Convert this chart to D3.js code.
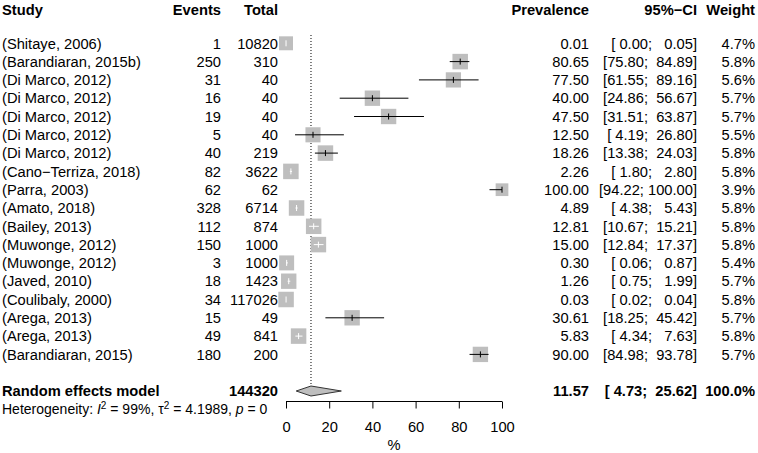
<!DOCTYPE html>
<html><head><meta charset="utf-8">
<script src="https://cdn.jsdelivr.net/npm/d3@7"></script>
<style>
body{margin:0;background:#fff;}
svg text{font-family:"Liberation Sans",Arial,Helvetica,sans-serif;white-space:pre;}
</style></head><body>
<svg id="c" width="758" height="453"></svg>
<script>
const studies = ["(Shitaye, 2006)","(Barandiaran, 2015b)","(Di Marco, 2012)","(Di Marco, 2012)","(Di Marco, 2012)","(Di Marco, 2012)","(Di Marco, 2012)","(Cano\u2212Terriza, 2018)","(Parra, 2003)","(Amato, 2018)","(Bailey, 2013)","(Muwonge, 2012)","(Muwonge, 2012)","(Javed, 2010)","(Coulibaly, 2000)","(Arega, 2013)","(Arega, 2013)","(Barandiaran, 2015)"];
const events = [1,250,31,16,19,5,40,82,62,328,112,150,3,18,34,15,49,180];
const totals = [10820,310,40,40,40,40,219,3622,62,6714,874,1000,1000,1423,117026,49,841,200];
const prevalence = [0.01,80.65,77.50,40.00,47.50,12.50,18.26,2.26,100.00,4.89,12.81,15.00,0.30,1.26,0.03,30.61,5.83,90.00];
const ciLower = [0.00,75.80,61.55,24.86,31.51,4.19,13.38,1.80,94.22,4.38,10.67,12.84,0.06,0.75,0.02,18.25,4.34,84.98];
const ciUpper = [0.05,84.89,89.16,56.67,63.87,26.80,24.03,2.80,100.00,5.43,15.21,17.37,0.87,1.99,0.04,45.42,7.63,93.78];
const weights = [4.7,5.8,5.6,5.7,5.7,5.5,5.8,5.8,3.9,5.8,5.8,5.8,5.4,5.7,5.8,5.7,5.8,5.7];
const pooledTotal = 144320;
const pooled = {est:11.57, lower:4.73, upper:25.62, weight:"100.0%"};
const axisTicks = [0,20,40,60,80,100];
const headers = ["Study","Events","Total","Prevalence","95%\u2212CI","Weight"];

const svg = d3.select("#c");
const x = d3.scaleLinear().domain([0,100]).range([286,502]);
const y = d3.scaleLinear().domain([0,1]).range([43.3,61.6]);
const fs = 14.7;
const colX = {study:2, events:221, total:278, prev:589, ci:697, weight:755};
const fmt = v => v.toFixed(2);
const ciStr = (l,u) => "[" + fmt(l).padStart(5," ") + "; " + fmt(u).padStart(6," ") + "]";

// headers
const hy = 14.5;
const hdrX = [colX.study,colX.events,colX.total,colX.prev,colX.ci,colX.weight];
const hdrA = ["start","end","end","end","end","end"];
svg.selectAll("text.hdr").data(headers).join("text").attr("class","hdr")
  .attr("x",(d,i)=>hdrX[i]).attr("y",hy).attr("text-anchor",(d,i)=>hdrA[i])
  .attr("font-size",fs).attr("font-weight","bold").text(d=>d);

// dotted line at pooled estimate
svg.append("line").attr("x1",x(pooled.est)).attr("x2",x(pooled.est))
  .attr("y1",35).attr("y2",386).attr("stroke","#000").attr("stroke-width",1)
  .attr("stroke-dasharray","1,2");

const rows = studies.map((s,i)=>({s,i,e:events[i],t:totals[i],p:prevalence[i],l:ciLower[i],u:ciUpper[i],w:weights[i]}));
const g = svg.append("g");
const rowText = (cls, xPos, anchor, fn) => g.selectAll("text."+cls).data(rows).join("text").attr("class",cls)
  .attr("x",xPos).attr("y",d=>y(d.i)).attr("dy","0.36em").attr("text-anchor",anchor)
  .attr("font-size",fs).text(fn);
rowText("st",colX.study,"start",d=>d.s);
rowText("ev",colX.events,"end",d=>d.e);
rowText("to",colX.total,"end",d=>d.t);
rowText("pr",colX.prev,"end",d=>fmt(d.p));
rowText("ci",colX.ci,"end",d=>ciStr(d.l,d.u));
rowText("wt",colX.weight,"end",d=>d.w.toFixed(1)+"%");

// squares and CIs
const maxW = d3.max(weights);
const side = w => 15.5*Math.sqrt(w/maxW);
const marks = g.selectAll("g.mk").data(rows).join("g").attr("class","mk");
marks.append("rect")
  .attr("x",d=>x(d.p)-side(d.w)/2).attr("y",d=>y(d.i)-side(d.w)/2)
  .attr("width",d=>side(d.w)).attr("height",d=>side(d.w))
  .attr("fill","#bebebe");
const inside = d => (x(d.l) >= x(d.p)-side(d.w)/2) && (x(d.u) <= x(d.p)+side(d.w)/2);
marks.append("line")
  .attr("x1",d=>x(d.l)).attr("x2",d=>x(d.u)).attr("y1",d=>y(d.i)).attr("y2",d=>y(d.i))
  .attr("stroke",d=>inside(d)?"#fff":"#000").attr("stroke-width",1);
marks.append("line")
  .attr("x1",d=>x(d.p)).attr("x2",d=>x(d.p)).attr("y1",d=>y(d.i)-3).attr("y2",d=>y(d.i)+3)
  .attr("stroke",d=>inside(d)?"#fff":"#000").attr("stroke-width",1);

// pooled row
const py = y(19);
const bold = (xp, anchor, txt) => svg.append("text").attr("x",xp).attr("y",py).attr("dy","0.36em")
  .attr("text-anchor",anchor).attr("font-size",fs).attr("font-weight","bold").text(txt);
bold(colX.study,"start","Random effects model");
bold(colX.total,"end",pooledTotal);
bold(colX.prev,"end",fmt(pooled.est));
bold(colX.ci,"end",ciStr(pooled.lower,pooled.upper));
bold(colX.weight,"end",pooled.weight);
svg.append("polygon")
  .attr("points",[[x(pooled.lower),py],[x(pooled.est),py-5],[x(pooled.upper),py],[x(pooled.est),py+5]].map(p=>p.join(",")).join(" "))
  .attr("fill","#bebebe").attr("stroke","#333").attr("stroke-width",1);

// heterogeneity
const het = svg.append("text").attr("x",colX.study).attr("y",y(20)).attr("dy","0.36em").attr("font-size",14);
het.append("tspan").text("Heterogeneity: ");
het.append("tspan").attr("font-style","italic").text("I");
het.append("tspan").attr("font-size",10).attr("dy","-0.5em").text("2");
het.append("tspan").attr("dy","0.36em").text(" = 99%, \u03c4");
het.append("tspan").attr("font-size",10).attr("dy","-0.5em").text("2");
het.append("tspan").attr("dy","0.36em").text(" = 4.1989, ");
het.append("tspan").attr("font-style","italic").text("p");
het.append("tspan").text(" = 0");

// axis
const ax = svg.append("g").attr("transform","translate(0,401.5)")
  .call(d3.axisBottom(x).tickValues(axisTicks).tickSize(7).tickPadding(13).tickFormat(d3.format("d")));
ax.select(".domain").attr("d",`M${x(0)},0H${x(100)}`).attr("stroke","#000");
ax.selectAll(".tick line").attr("stroke","#000");
ax.selectAll(".tick text").attr("font-size",fs).attr("fill","#000").attr("font-family","Liberation Sans, Arial, sans-serif");
svg.append("text").attr("x",x(50)).attr("y",444.5).attr("dy","0.36em").attr("text-anchor","middle").attr("font-size",fs).text("%");
</script></body></html>
